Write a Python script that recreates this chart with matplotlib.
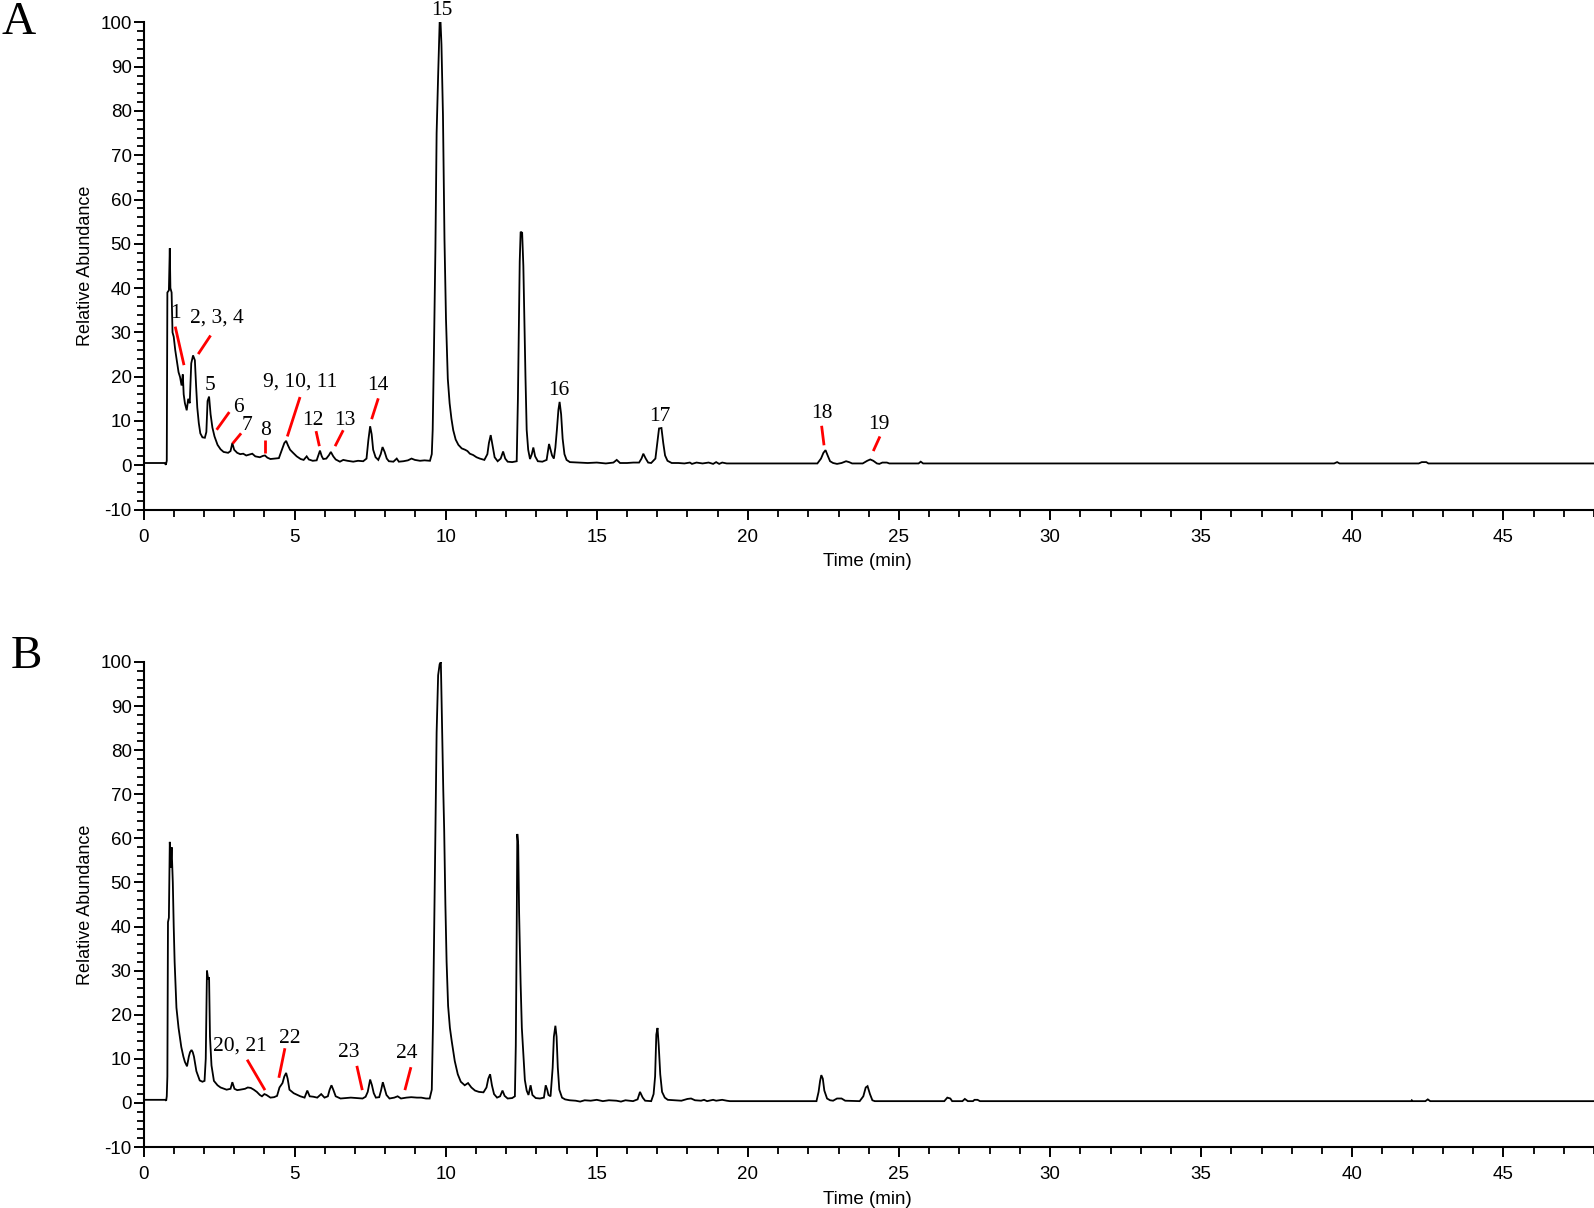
import matplotlib
matplotlib.use("Agg")
import matplotlib.pyplot as plt
from matplotlib.ticker import MultipleLocator

plt.rcParams["axes.unicode_minus"] = False

# ---------------- data: chromatogram A (time in min, relative abundance) -------------
time_a = [0.0, 0.70, 0.74, 0.77, 0.79, 0.84, 0.87, 0.89, 0.93, 0.96, 1.00, 1.05, 1.10, 1.16,
          1.21, 1.26, 1.30, 1.33, 1.37, 1.43, 1.48, 1.53, 1.58, 1.64, 1.70, 1.74, 1.78, 1.83,
          1.88, 1.95, 2.03, 2.08, 2.12, 2.17, 2.22, 2.28, 2.35, 2.45, 2.55, 2.65, 2.80, 2.88,
          2.94, 3.00, 3.10, 3.20, 3.30, 3.40, 3.50, 3.60, 3.70, 3.85, 3.95, 4.02, 4.10, 4.20,
          4.35, 4.48, 4.58, 4.66, 4.72, 4.78, 4.85, 4.95, 5.07, 5.20, 5.30, 5.40, 5.47, 5.60,
          5.73, 5.80, 5.84, 5.90, 5.95, 6.05, 6.14, 6.20, 6.28, 6.36, 6.50, 6.61, 6.75, 6.94,
          7.10, 7.27, 7.38, 7.44, 7.50, 7.55, 7.60, 7.68, 7.77, 7.85, 7.91, 7.98, 8.05, 8.12,
          8.27, 8.38, 8.45, 8.60, 8.75, 8.87, 8.98, 9.15, 9.30, 9.48, 9.54, 9.57, 9.61, 9.66,
          9.70, 9.75, 9.80, 9.83, 9.86, 9.91, 9.96, 10.01, 10.07, 10.13, 10.19, 10.25, 10.33,
          10.42, 10.53, 10.64, 10.72, 10.80, 10.91, 11.02, 11.13, 11.28, 11.38, 11.43, 11.49,
          11.55, 11.62, 11.72, 11.82, 11.90, 11.97, 12.05, 12.20, 12.35, 12.39, 12.42, 12.45,
          12.48, 12.53, 12.57, 12.61, 12.64, 12.68, 12.73, 12.79, 12.85, 12.90, 12.96, 13.05,
          13.20, 13.34, 13.42, 13.47, 13.52, 13.58, 13.63, 13.68, 13.73, 13.77, 13.82, 13.87,
          13.93, 14.00, 14.11, 14.40, 14.70, 15.00, 15.30, 15.55, 15.66, 15.77, 16.00, 16.21,
          16.40, 16.48, 16.54, 16.62, 16.70, 16.80, 16.94, 17.00, 17.06, 17.14, 17.20, 17.26,
          17.34, 17.48, 17.70, 17.90, 18.08, 18.15, 18.30, 18.50, 18.70, 18.85, 18.95, 19.05,
          19.15, 19.30, 20.0, 21.0, 22.30, 22.42, 22.50, 22.57, 22.64, 22.72, 22.82, 22.95,
          23.10, 23.25, 23.35, 23.45, 23.80, 23.95, 24.05, 24.15, 24.27, 24.35, 24.45, 24.60,
          24.68, 25.65, 25.72, 25.80, 39.40, 39.50, 39.58, 42.20, 42.30, 42.45, 42.52, 48.0]
abund_a = [0.5, 0.5, 0.1, 1.0, 39, 39.5, 49, 40, 39, 30, 29, 26, 23.7, 21,
           19.9, 18.0, 20.5, 16, 14, 12.4, 15, 14, 23, 24.8, 23.7, 18, 13, 9.5,
           7.2, 6.3, 6.2, 7.5, 14.5, 15.5, 11.5, 8.5, 6.5, 4.6, 3.6, 3.0, 2.8, 3.2,
           5.0, 3.5, 2.8, 2.5, 2.6, 2.2, 2.4, 2.6, 2.0, 1.8, 2.1, 2.2, 1.7, 1.4,
           1.5, 1.6, 3.5, 5.0, 5.5, 4.5, 3.5, 2.8, 2.0, 1.4, 1.2, 2.0, 1.3, 1.0,
           1.1, 2.5, 3.3, 2.0, 1.4, 1.5, 2.3, 3.0, 2.0, 1.3, 0.8, 1.2, 1.0, 0.8,
           1.0, 0.9, 1.5, 5.6, 8.8, 7.0, 3.5, 1.8, 1.2, 2.5, 4.1, 3.0, 1.5, 0.9,
           0.8, 1.5, 0.8, 0.9, 1.1, 1.5, 1.2, 1.0, 1.1, 1.0, 2.5, 8.0, 25, 49,
           75, 88, 100, 100, 95, 79, 51, 33, 19.5, 14, 10.5, 7.9, 5.8,
           4.6, 3.8, 3.5, 3.2, 2.6, 2.3, 1.8, 1.5, 1.2, 2.5, 5.0, 6.8,
           4.5, 1.8, 0.9, 1.5, 3.1, 1.5, 0.8, 0.7, 0.9, 15, 30, 46,
           52.7, 52.5, 45, 30, 20, 8, 3.5, 1.4, 2.5, 4.0, 2.0, 0.9,
           0.8, 1.2, 4.8, 3.5, 2.2, 1.5, 4.0, 8, 12.5, 14.3, 11.5, 6,
           2.5, 1.2, 0.7, 0.6, 0.5, 0.6, 0.4, 0.6, 1.2, 0.5, 0.5, 0.6,
           0.6, 1.5, 2.6, 1.5, 0.6, 0.5, 1.5, 5, 8.3, 8.4, 5, 2.2,
           1.0, 0.5, 0.5, 0.4, 0.6, 0.3, 0.6, 0.4, 0.6, 0.3, 0.7, 0.3,
           0.6, 0.4, 0.4, 0.4, 0.4, 1.5, 2.8, 3.4, 2.2, 0.9, 0.5, 0.3,
           0.5, 0.9, 0.7, 0.4, 0.4, 1.0, 1.3, 1.0, 0.4, 0.3, 0.6, 0.6,
           0.4, 0.4, 0.8, 0.4, 0.4, 0.7, 0.4, 0.4, 0.7, 0.7, 0.4, 0.4]

# ---------------- data: chromatogram B -------------
time_b = [0.0, 0.72, 0.75, 0.77, 0.79, 0.81, 0.84, 0.87, 0.90, 0.93, 0.97, 1.00, 1.03, 1.09,
          1.16, 1.25, 1.32, 1.37, 1.44, 1.50, 1.54, 1.59, 1.63, 1.67, 1.75, 1.86, 1.95, 2.02,
          2.06, 2.10, 2.14, 2.17, 2.20, 2.25, 2.33, 2.45, 2.55, 2.75, 2.88, 2.94, 3.01, 3.10,
          3.20, 3.36, 3.45, 3.55, 3.65, 3.75, 3.85, 3.92, 4.00, 4.07, 4.20, 4.32, 4.42, 4.50,
          4.60, 4.66, 4.72, 4.77, 4.83, 4.97, 5.10, 5.19, 5.33, 5.42, 5.50, 5.62, 5.75, 5.88,
          5.99, 6.10, 6.16, 6.22, 6.28, 6.36, 6.52, 6.70, 6.86, 7.05, 7.25, 7.35, 7.42, 7.50,
          7.56, 7.62, 7.69, 7.80, 7.86, 7.92, 7.97, 8.04, 8.14, 8.30, 8.41, 8.52, 8.70, 8.86,
          9.05, 9.19, 9.35, 9.47, 9.54, 9.58, 9.61, 9.66, 9.70, 9.75, 9.80, 9.84, 9.88, 9.92,
          9.95, 9.99, 10.03, 10.08, 10.14, 10.20, 10.30, 10.40, 10.50, 10.63, 10.74, 10.85,
          10.97, 11.10, 11.25, 11.35, 11.41, 11.47, 11.53, 11.60, 11.70, 11.80, 11.88, 11.95,
          12.05, 12.20, 12.29, 12.32, 12.35, 12.37, 12.40, 12.43, 12.48, 12.52, 12.57, 12.62,
          12.68, 12.74, 12.81, 12.87, 12.98, 13.12, 13.25, 13.31, 13.36, 13.40, 13.47, 13.54,
          13.58, 13.63, 13.67, 13.71, 13.76, 13.85, 13.95, 14.10, 14.30, 14.45, 14.60, 14.80,
          15.00, 15.20, 15.40, 15.65, 15.80, 15.95, 16.20, 16.35, 16.43, 16.52, 16.60, 16.80,
          16.88, 16.93, 16.97, 17.01, 17.05, 17.10, 17.16, 17.25, 17.35, 17.55, 17.80, 18.00,
          18.12, 18.25, 18.45, 18.55, 18.65, 18.85, 18.95, 19.15, 19.30, 19.40, 22.27, 22.34,
          22.39, 22.43, 22.48, 22.53, 22.62, 22.72, 22.82, 22.95, 23.10, 23.22, 23.70, 23.82,
          23.90, 23.96, 24.04, 24.12, 24.20, 26.50, 26.60, 26.70, 26.76, 27.10, 27.18, 27.28,
          27.45, 27.50, 27.60, 27.68, 41.95, 41.97, 42.00, 42.42, 42.50, 42.58, 48.0]
abund_b = [0.7, 0.7, 0.5, 1.5, 6, 41, 42, 59.2, 53.4, 58, 50, 40, 32, 21.6,
           17, 12.7, 10.5, 9.3, 8.3, 10.5, 11.5, 12, 11.5, 10.5, 7.2, 5.1, 4.8, 5,
           10, 30, 28, 28.5, 15, 8.5, 5, 4, 3.5, 3.0, 3.2, 4.7, 3.2, 2.9,
           3.0, 3.2, 3.5, 3.4, 3.0, 2.5, 1.8, 1.5, 2.0, 1.8, 1.2, 1.3, 1.6, 3.5,
           4.5, 6.0, 6.8, 5.5, 3.0, 2.2, 1.8, 1.5, 1.2, 2.8, 1.5, 1.4, 1.2, 2.0,
           1.2, 1.5, 3.0, 4.0, 3.0, 1.5, 1.0, 1.1, 1.2, 1.1, 1.0, 1.4, 2.5, 5.3,
           4.0, 2.2, 1.2, 1.3, 2.8, 4.7, 3.5, 1.8, 1.0, 1.2, 1.5, 1.0, 1.2, 1.3,
           1.2, 1.2, 1.0, 1.0, 3, 18, 34, 61.5, 84, 97, 99.5, 100, 85, 71,
           62, 45, 32, 22, 17, 14, 9.5, 6.5, 4.8, 4.0, 4.5, 3.5,
           2.8, 2.5, 2.4, 3.5, 5.5, 6.5, 4.0, 2.0, 1.2, 1.5, 2.8, 1.6,
           1.0, 1.1, 1.5, 13, 39, 61, 58.5, 43, 27, 17, 11, 5.2,
           2.8, 1.8, 4.0, 1.8, 1.1, 1.0, 1.2, 4.0, 3.0, 1.8, 1.5, 8,
           15, 17.5, 15, 8, 3, 1.2, 0.8, 0.6, 0.5, 0.3, 0.6, 0.5,
           0.7, 0.4, 0.6, 0.5, 0.3, 0.6, 0.4, 0.8, 2.5, 1.2, 0.5, 0.4,
           2, 6, 15.5, 17, 13, 6.5, 2.5, 1.2, 0.7, 0.6, 0.5, 0.9,
           1.0, 0.6, 0.5, 0.7, 0.4, 0.7, 0.5, 0.7, 0.5, 0.4, 0.4, 2.5,
           5, 6.3, 5.5, 2.8, 1.0, 0.6, 0.5, 1.0, 1.0, 0.5, 0.4, 1.5,
           3.5, 3.8, 2.0, 0.6, 0.4, 0.4, 1.2, 1.0, 0.4, 0.4, 0.9, 0.4,
           0.4, 0.7, 0.7, 0.4, 0.4, 0.6, 0.4, 0.4, 0.8, 0.4, 0.4]

# ---------------- peak labels (text, label position, red leader start/end) ----------
labels_a = ["1", "2, 3, 4", "5", "6", "7", "8", "9, 10, 11", "12", "13", "14",
            "15", "16", "17", "18", "19"]
label_t_a = [1.07, 2.42, 2.20, 3.14, 3.43, 4.05, 5.18, 5.62, 6.65, 7.77,
             9.87, 13.73, 17.09, 22.44, 24.32]
label_v_a = [34.3, 33.2, 18.1, 13.1, 9.0, 7.9, 18.8, 10.0, 10.0, 18.1,
             102.7, 16.9, 10.9, 11.7, 9.2]
lead_a = {"1": (1.05, 31.3, 1.34, 22.6), "2, 3, 4": (2.22, 29.3, 1.81, 25.1),
          "6": (2.84, 12.0, 2.42, 8.0), "7": (3.23, 7.2, 2.95, 4.9),
          "8": (4.03, 5.6, 4.03, 2.8), "9, 10, 11": (5.18, 15.4, 4.76, 6.5),
          "12": (5.71, 7.7, 5.82, 4.3), "13": (6.61, 7.9, 6.34, 4.3),
          "14": (7.77, 15.1, 7.55, 10.4), "18": (22.44, 8.9, 22.52, 4.5),
          "19": (24.37, 6.5, 24.15, 3.2)}

labels_b = ["20, 21", "22", "23", "24"]
label_t_b = [3.19, 4.85, 6.78, 8.71]
label_v_b = [13.0, 14.7, 11.4, 11.1]
lead_b = {"20, 21": (3.43, 9.8, 4.02, 2.9), "22": (4.68, 12.4, 4.48, 5.7),
          "23": (7.06, 8.4, 7.24, 2.9), "24": (8.85, 8.1, 8.65, 2.9)}

x_major = list(range(0, 50, 5))
y_major = list(range(-10, 101, 10))

# ---------------- figure ----------------
W, H = 1594, 1208
fig = plt.figure(figsize=(W / 100, H / 100), dpi=100)

sans = ["Liberation Sans", "DejaVu Sans"]
serif = ["Liberation Serif", "DejaVu Serif"]


def make_axes(rect, t, v, labels, lt, lv, leads, letter, letter_xy):
    ax = fig.add_axes(rect)
    ax.plot(t, v, color="black", lw=1.3, solid_joinstyle="miter")
    ax.set_xlim(0, 48)
    ax.set_ylim(-10, 100)
    ax.set_xticks(x_major)
    ax.set_yticks(y_major)
    ax.xaxis.set_minor_locator(MultipleLocator(1))
    ax.yaxis.set_minor_locator(MultipleLocator(2))
    for s in ("top", "right"):
        ax.spines[s].set_visible(False)
    for s in ("left", "bottom"):
        ax.spines[s].set_linewidth(1.5)
    ax.tick_params(which="major", direction="out", length=7.5, width=1.4,
                   labelsize=13.5, colors="black")
    ax.tick_params(which="minor", direction="out", length=5, width=1.3)
    ax.tick_params(axis="y", which="major", pad=1)
    ax.tick_params(axis="x", which="major", pad=6.5)
    for lab in ax.get_xticklabels() + ax.get_yticklabels():
        lab.set_family(sans)
    ax.set_xlabel("Time (min)", family=sans, fontsize=13.5)
    ax.xaxis.set_label_coords(0.499, -0.090)
    ax.set_ylabel("Relative Abundance", family=sans, fontsize=13)
    ax.yaxis.set_label_coords(-0.034, 0.5)
    for name, x, y in zip(labels, lt, lv):
        ax.text(x, y, name, ha="center", va="center", family=serif,
                fontsize=15.5, color="black", clip_on=False)
        if name in leads:
            x0, y0, x1, y1 = leads[name]
            ax.plot([x0, x1], [y0, y1], color="#ff0000", lw=2.0,
                    solid_capstyle="butt", clip_on=False)
    fig.text(letter_xy[0], letter_xy[1], letter, family=serif, fontsize=34,
             ha="left", va="top")
    return ax


left = 143.5 / W
width = 1.0 - left
axA = make_axes([left, 1 - 509.5 / H, width, 487.1 / H], time_a, abund_a,
                labels_a, label_t_a, label_v_a, lead_a, "A", (1 / W, 1 - 1 / H))
axB = make_axes([left, 1 - 1147 / H, width, 485 / H], time_b, abund_b,
                labels_b, label_t_b, label_v_b, lead_b, "B", (11 / W, 1 - 636 / H))

fig.savefig("out.png", dpi=100)
